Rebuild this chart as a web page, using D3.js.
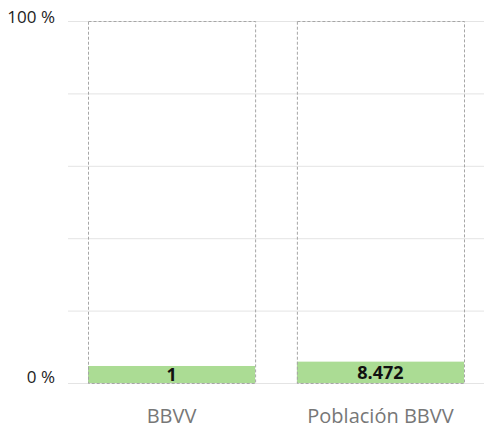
<!DOCTYPE html>
<html><head><meta charset="utf-8">
<script src="https://cdn.jsdelivr.net/npm/d3@7"></script>
<style>body{margin:0;background:#fff;}svg{display:block;font-family:"Open Sans","Noto Sans",sans-serif;}</style>
</head><body>
<svg id="c" width="484" height="430"></svg>
<script>
const categories = ["BBVV", "Población BBVV"];
const barPercent = [4.7, 5.9];
const valueLabels = ["1", "8.472"];
const yTicks = [0, 20, 40, 60, 80, 100];
const yTickLabels = {0: "0 %", 100: "100 %"};

const svg = d3.select("#c");
const m = {left: 68, top: 21, bottom: 47};
const W = 484, H = 430;
const x = d3.scaleBand().domain(categories).range([88, 464]).paddingInner(0.2).paddingOuter(0);
const y = d3.scaleLinear().domain([0, 100]).range([H - m.bottom, m.top]);

// gridlines
svg.append("g").selectAll("line").data(yTicks).join("line")
  .attr("x1", m.left).attr("x2", W).attr("y1", d => y(d) + 0.5).attr("y2", d => y(d) + 0.5)
  .attr("stroke", "#e4e4e4").attr("stroke-width", 1);

// y labels
svg.append("g").selectAll("text").data(yTicks.filter(d => yTickLabels[d])).join("text")
  .attr("x", 55).attr("y", d => d === 100 ? y(d) + 2 : y(d))
  .attr("text-anchor", "end")
  .attr("font-size", 17).attr("fill", "#222").text(d => yTickLabels[d]);

// bars
svg.append("g").selectAll("rect").data(categories).join("rect")
  .attr("x", d => x(d)).attr("width", x.bandwidth())
  .attr("y", (d, i) => y(barPercent[i])).attr("height", (d, i) => y(0) - y(barPercent[i]))
  .attr("fill", "#abdc94");

// dashed frames
svg.append("g").selectAll("rect").data(categories).join("rect")
  .attr("x", d => x(d) + 0.5).attr("width", x.bandwidth())
  .attr("y", y(100) + 0.5).attr("height", y(0) - y(100))
  .attr("fill", "none").attr("stroke", "#a6a6a6").attr("stroke-width", 1).attr("stroke-dasharray", "3,2");

// value labels
svg.append("g").selectAll("text").data(categories).join("text")
  .attr("x", d => x(d) + x.bandwidth() / 2)
  .attr("y", (d, i) => (y(barPercent[i]) + y(0)) / 2 + 7)
  .attr("text-anchor", "middle").attr("font-size", 18).attr("font-weight", "bold").attr("fill", "#111")
  .text((d, i) => valueLabels[i]);

// x labels
svg.append("g").selectAll("text").data(categories).join("text")
  .attr("x", d => x(d) + x.bandwidth() / 2).attr("y", 423)
  .attr("text-anchor", "middle").attr("font-size", 20).attr("fill", "#777").text(d => d);
</script>
</body></html>
